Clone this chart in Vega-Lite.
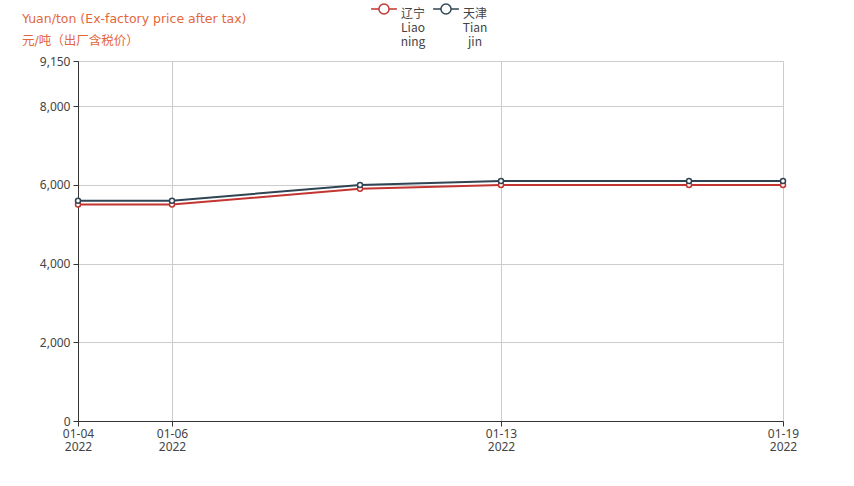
{
  "$schema": "https://vega.github.io/schema/vega-lite/v6.json",
  "width": 705,
  "height": 360,
  "autosize": {"type": "none"},
  "padding": {"left": 78, "top": 61, "right": 71, "bottom": 65},
  "background": "white",
  "title": {
    "text": ["Yuan/ton (Ex-factory price after tax)", "元/吨（出厂含税价）"],
    "anchor": "start",
    "frame": "group",
    "dx": -56,
    "dy": 62,
    "offset": 14,
    "color": "#e4673c",
    "fontSize": 12.5,
    "font": "DejaVu Sans, Noto Sans CJK SC",
    "fontWeight": "normal",
    "lineHeight": 22
  },
  "data": {
    "values": [
      {"date": "2022-01-04", "city": "辽宁", "price": 5500},
      {"date": "2022-01-06", "city": "辽宁", "price": 5500},
      {"date": "2022-01-10", "city": "辽宁", "price": 5900},
      {"date": "2022-01-13", "city": "辽宁", "price": 6000},
      {"date": "2022-01-17", "city": "辽宁", "price": 6000},
      {"date": "2022-01-19", "city": "辽宁", "price": 6000},
      {"date": "2022-01-04", "city": "天津", "price": 5600},
      {"date": "2022-01-06", "city": "天津", "price": 5600},
      {"date": "2022-01-10", "city": "天津", "price": 6000},
      {"date": "2022-01-13", "city": "天津", "price": 6100},
      {"date": "2022-01-17", "city": "天津", "price": 6100},
      {"date": "2022-01-19", "city": "天津", "price": 6100}
    ]
  },
  "encoding": {
    "x": {
      "field": "date",
      "type": "temporal",
      "scale": {"type": "utc", "domain": [{"year": 2022, "month": 1, "date": 4, "utc": true}, {"year": 2022, "month": 1, "date": 19, "utc": true}]},
      "axis": {
        "title": null,
        "values": [
          {"year": 2022, "month": 1, "date": 4, "utc": true},
          {"year": 2022, "month": 1, "date": 6, "utc": true},
          {"year": 2022, "month": 1, "date": 13, "utc": true},
          {"year": 2022, "month": 1, "date": 19, "utc": true}
        ],
        "labelExpr": "[utcFormat(datum.value, '%m-%d'), utcFormat(datum.value, '%Y')]",
        "labelFont": "Noto Sans",
        "labelFontSize": 12,
        "labelColor": "#444",
        "labelLineHeight": 13,
        "labelPadding": 2,
        "labelOverlap": false,
        "labelFlush": false,
        "domainColor": "#333",
        "tickColor": "#333",
        "tickSize": 5,
        "grid": true,
        "gridColor": "#ccc"
      }
    },
    "y": {
      "field": "price",
      "type": "quantitative",
      "scale": {"domain": [0, 9150], "nice": false},
      "axis": {
        "title": null,
        "values": [0, 2000, 4000, 6000, 8000, 9150],
        "labelExpr": "format(datum.value, ',')",
        "labelFont": "Noto Sans",
        "labelFontSize": 12,
        "labelColor": "#444",
        "labelPadding": 3,
        "domainColor": "#333",
        "tickColor": "#333",
        "tickSize": 5,
        "grid": true,
        "gridColor": "#ccc"
      }
    },
    "color": {
      "field": "city",
      "type": "nominal",
      "scale": {"domain": ["辽宁", "天津"], "range": ["#c23531", "#2f4554"]}
    }
  },
  "layer": [
    {
      "mark": {"type": "line", "strokeWidth": 2},
      "encoding": {
        "color": {
          "field": "city",
          "type": "nominal",
          "scale": {"domain": ["辽宁", "天津"], "range": ["#c23531", "#2f4554"]},
          "legend": {
            "title": null,
            "orient": "none",
            "legendX": 296,
            "legendY": -62,
            "direction": "horizontal",
            "symbolType": "M-1.4,0L-0.55,0M0.55,0L1.4,0M-0.55,0A0.55,0.55 0 1,1 0.55,0A0.55,0.55 0 1,1 -0.55,0",
            "symbolSize": 340,
            "symbolStrokeWidth": 1.5,
            "symbolFillColor": "white",
            "labelFont": "Noto Sans CJK SC",
            "labelFontSize": 12,
            "labelColor": "#444",
            "labelLineHeight": 14,
            "labelBaseline": "top",
            "labelAlign": "center",
            "labelExpr": "datum.label == '辽宁' ? ['辽宁', 'Liao', 'ning'] : ['天津', 'Tian', 'jin']",
            "columnPadding": 4,
            "labelOffset": 19
          }
        }
      }
    },
    {
      "mark": {"type": "point", "filled": false, "fill": "white", "size": 25, "strokeWidth": 1.5, "opacity": 1},
      "encoding": {
        "color": {
          "field": "city",
          "type": "nominal",
          "scale": {"domain": ["辽宁", "天津"], "range": ["#c23531", "#2f4554"]},
          "legend": null
        }
      }
    }
  ]
}
